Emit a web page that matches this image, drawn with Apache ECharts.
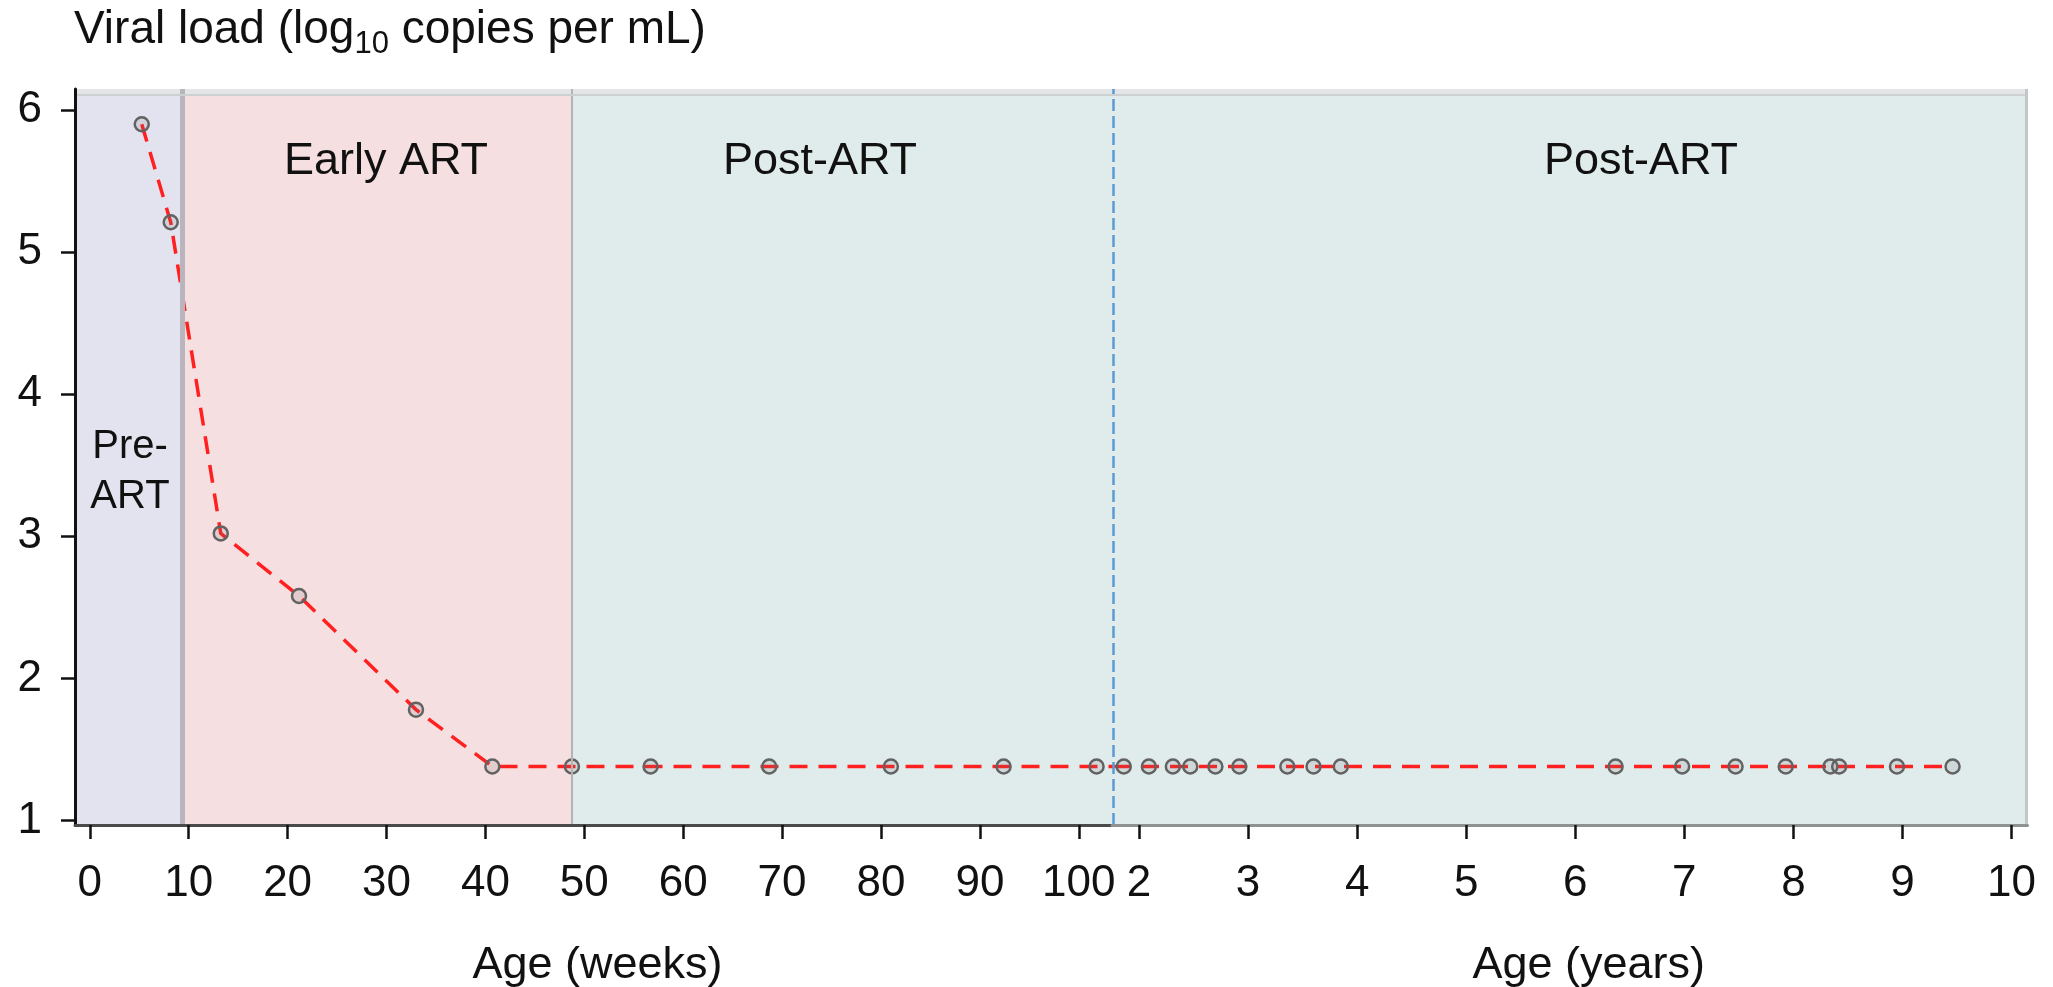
<!DOCTYPE html>
<html>
<head>
<meta charset="utf-8">
<script src="https://cdn.jsdelivr.net/npm/echarts@6/dist/echarts.min.js"></script>
<style>
html,body{margin:0;padding:0;background:#fff;}
#main{width:2053px;height:987px;}
</style>
</head>
<body>
<div id="main"></div>
<script>
// tick labels
var weekTicks=[0,10,20,30,40,50,60,70,80,90,100];
var yearTicks=[2,3,4,5,6,7,8,9,10];
var loadTicks=[1,2,3,4,5,6];

// viral load, first part of follow-up (age in weeks)
var weekAges=[5.25,8.18,13.24,21.15,32.98,40.7,48.75,56.7,68.7,81.0,92.4,101.8];
var weekLoads=[5.90,5.21,3.02,2.58,1.78,1.38,1.38,1.38,1.38,1.38,1.38,1.38];

// viral load, later follow-up (age in years)
var yearAges=[1.86,2.09,2.31,2.47,2.70,2.92,3.36,3.60,3.85,6.37,6.98,7.47,7.93,8.34,8.42,8.95,9.46];
var yearLoads=[1.38,1.38,1.38,1.38,1.38,1.38,1.38,1.38,1.38,1.38,1.38,1.38,1.38,1.38,1.38,1.38,1.38];

// phases (weeks): pre-ART ends, early ART ends
var phaseNames=['Pre-\nART','Early ART','Post-ART','Post-ART'];
var phaseBreaks=[9.35,48.76];

var FONT='"Liberation Sans", Arial, sans-serif';
var weekMin=-1.5, weekMax=103.36;
var yearMin=1.752, yearMax=10.147;
var loadMin=0.968, loadMax=6.148, bandTop=6.105;
var edge=0.004;   // keep edge lines inside the axis range

var colPre='#e3e3ef', colEarly='#f6dfe0', colPost='#e0ebeb', colStrip='#e3e5e6';

function pairs(xs,ys){
	var out=[];
	for(var i=0;i<xs.length;i++){
		out.push([xs[i],ys[i]]);
	}
	return out;
}

var leftData=pairs(weekAges,weekLoads);
// carry the dashed line to the split
leftData.push({value:[weekMax,weekLoads[weekLoads.length-1]],symbol:'none'});
var rightData=pairs(yearAges,yearLoads);
rightData.unshift({value:[yearMin,yearLoads[0]],symbol:'none'});

var lineStyle={color:'#ff2020',width:3.5,type:[18,11]};
var pointStyle={color:'rgba(110,110,110,0.15)',borderColor:'#626262',borderWidth:2.5};

function xAxisOf(idx,min,max,ticks,name,pad,lineCol){
	return {
		type:'value',gridIndex:idx,min:min,max:max,z:5,
		axisLine:{show:true,onZero:false,lineStyle:{color:lineCol,width:3}},
		axisTick:{show:true,customValues:ticks,length:14,lineStyle:{color:'#111',width:2.5}},
		axisLabel:{customValues:ticks,margin:37,fontSize:44,color:'#111',fontFamily:FONT},
		splitLine:{show:false},
		name:name,nameLocation:'middle',nameGap:118,
		nameTextStyle:{fontSize:45,color:'#111',fontFamily:FONT,padding:[0,0,0,pad]}
	};
}

var myChart=echarts.init(document.getElementById('main'),null,{renderer:'canvas'});
var option={
	backgroundColor:'#fff',
	animation:false,
	title:{
		left:74,top:0,padding:0,
		text:'{a|Viral load (log}{s|10}{a| copies per mL)}',
		textStyle:{
			fontWeight:'normal',
			rich:{
				a:{fontSize:46,lineHeight:60,verticalAlign:'middle',fontWeight:'normal',color:'#111',fontFamily:FONT},
				s:{fontSize:31,lineHeight:30,verticalAlign:'bottom',fontWeight:'normal',color:'#111',fontFamily:FONT}
			}
		}
	},
	grid:[
		{left:75,top:89,width:1037,height:736,containLabel:false,outerBoundsMode:'none'},
		{left:1112,top:89,width:915.5,height:736,containLabel:false,outerBoundsMode:'none'}
	],
	xAxis:[
		xAxisOf(0,weekMin,weekMax,weekTicks,'Age (weeks)',8,'#4a4a4a'),
		xAxisOf(1,yearMin,yearMax,yearTicks,'Age (years)',38,'#8e9292')
	],
	yAxis:[
		{
			type:'value',gridIndex:0,min:loadMin,max:loadMax,z:5,
			axisLine:{show:true,onZero:false,lineStyle:{color:'#111',width:3}},
			axisTick:{show:true,customValues:loadTicks,length:14,lineStyle:{color:'#111',width:2.5}},
			axisLabel:{customValues:loadTicks,margin:33,fontSize:44,color:'#111',fontFamily:FONT},
			splitLine:{show:false}
		},
		{
			type:'value',gridIndex:1,min:loadMin,max:loadMax,show:false,
			splitLine:{show:false}
		}
	],
	graphic:[
		{type:'text',x:130,y:472,silent:true,z:10,style:{text:phaseNames[0],fontSize:40,lineHeight:50,fontFamily:FONT,fill:'#111',align:'center',verticalAlign:'middle'}},
		{type:'text',x:386,y:162,silent:true,z:10,style:{text:phaseNames[1],fontSize:45,fontFamily:FONT,fill:'#111',align:'center',verticalAlign:'middle'}},
		{type:'text',x:820,y:162,silent:true,z:10,style:{text:phaseNames[2],fontSize:45,fontFamily:FONT,fill:'#111',align:'center',verticalAlign:'middle'}},
		{type:'text',x:1641,y:162,silent:true,z:10,style:{text:phaseNames[3],fontSize:45,fontFamily:FONT,fill:'#111',align:'center',verticalAlign:'middle'}}
	],
	series:[
		{
			type:'line',xAxisIndex:0,yAxisIndex:0,
			data:leftData,
			symbol:'circle',symbolSize:14,
			lineStyle:lineStyle,itemStyle:pointStyle,
			markArea:{
				silent:true,
				data:[
					[{xAxis:weekMin,yAxis:loadMin,itemStyle:{color:colPre}},{xAxis:phaseBreaks[0],yAxis:bandTop}],
					[{xAxis:phaseBreaks[0],yAxis:loadMin,itemStyle:{color:colEarly}},{xAxis:phaseBreaks[1],yAxis:bandTop}],
					[{xAxis:phaseBreaks[1],yAxis:loadMin,itemStyle:{color:colPost}},{xAxis:weekMax,yAxis:bandTop}],
					[{xAxis:weekMin,yAxis:bandTop,itemStyle:{color:colStrip}},{xAxis:weekMax,yAxis:loadMax}]
				]
			},
			markLine:{
				silent:true,symbol:'none',label:{show:false},
				data:[
					{xAxis:phaseBreaks[0],lineStyle:{color:'#bab5bd',width:5,type:'solid'}},
					{xAxis:phaseBreaks[1],lineStyle:{color:'#b3b3b3',width:2,type:'solid'}},
					{yAxis:bandTop,lineStyle:{color:'#cdd0d0',width:2,type:'solid'}}
				]
			}
		},
		{
			type:'line',xAxisIndex:1,yAxisIndex:1,
			data:rightData,clip:false,
			symbol:'circle',symbolSize:14,
			lineStyle:lineStyle,itemStyle:pointStyle,
			markArea:{
				silent:true,
				data:[
					[{xAxis:yearMin,yAxis:loadMin,itemStyle:{color:colPost}},{xAxis:yearMax,yAxis:bandTop}],
					[{xAxis:yearMin,yAxis:bandTop,itemStyle:{color:colStrip}},{xAxis:yearMax,yAxis:loadMax}]
				]
			},
			markLine:{
				silent:true,symbol:'none',label:{show:false},
				data:[
					{yAxis:bandTop,lineStyle:{color:'#cdd0d0',width:2,type:'solid'}},
					{xAxis:yearMax-edge,lineStyle:{color:'#c3c7c7',width:3,type:'solid'}},
					{xAxis:yearMin+edge,lineStyle:{color:'#5b9bd5',width:2.5,type:[12,5]}}
				]
			}
		}
	]
};
myChart.setOption(option);
</script>
</body>
</html>
